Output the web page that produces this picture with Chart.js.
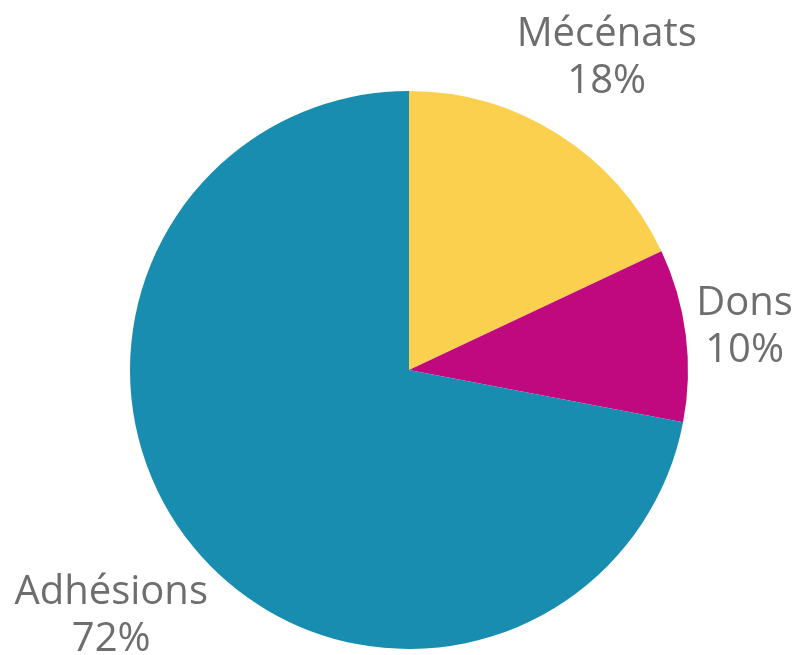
<!DOCTYPE html>
<html>
<head>
    <meta charset="utf-8">
    <script src="https://cdn.jsdelivr.net/npm/chart.js@4.4.0/dist/chart.umd.min.js"></script>
    <style>
        body { margin: 0; background: #fff; }
        #chart-container { width: 793px; height: 655px; }
    </style>
</head>
<body>
    <div id="chart-container">
        <canvas id="myPieChart"></canvas>
    </div>

    <script>
        const categories = ["Mécénats", "Dons", "Adhésions"];
        const percentages = [18, 10, 72];
        const sliceColors = ['#FCD04F', '#C0087F', '#188DB0'];

        // labels drawn outside each slice, pushed out so the text box clears the arc
        const outsideLabels = {
            id: 'outsideLabels',
            afterDatasetsDraw(chart) {
                const ctx = chart.ctx;
                const meta = chart.getDatasetMeta(0);
                const fontSize = 40, lineH = 47, gap = 6;
                ctx.save();
                ctx.font = fontSize + 'px "Open Sans"';
                ctx.fillStyle = '#6e6e6e';
                ctx.textAlign = 'center';
                ctx.textBaseline = 'middle';
                meta.data.forEach((arc, i) => {
                    const p = arc.getProps(['x', 'y', 'startAngle', 'endAngle', 'outerRadius'], true);
                    const mid = (p.startAngle + p.endAngle) / 2;
                    const dx = Math.cos(mid), dy = Math.sin(mid);
                    const lines = [chart.data.labels[i], chart.data.datasets[0].data[i] + '%'];
                    const hw = Math.max(...lines.map(t => ctx.measureText(t).width)) / 2;
                    const hh = lineH;
                    const push = p.outerRadius + gap + Math.abs(hw * dx) + Math.abs(hh * dy) * 0.9;
                    const cx = p.x + dx * push;
                    const cy = p.y + dy * push;
                    ctx.fillText(lines[0], cx, cy - lineH / 2);
                    ctx.fillText(lines[1], cx, cy + lineH / 2);
                });
                ctx.restore();
            }
        };

        const ctx = document.getElementById('myPieChart').getContext('2d');
        const myPieChart = new Chart(ctx, {
            type: 'pie',
            data: {
                labels: categories,
                datasets: [{
                    data: percentages,
                    backgroundColor: sliceColors,
                    borderWidth: 0
                }]
            },
            options: {
                responsive: true,
                maintainAspectRatio: false,
                animation: false,
                layout: { padding: { left: 130, right: 105, top: 91, bottom: 6 } },
                plugins: {
                    legend: { display: false },
                    tooltip: { enabled: false }
                }
            },
            plugins: [outsideLabels]
        });
    </script>
</body>
</html>
